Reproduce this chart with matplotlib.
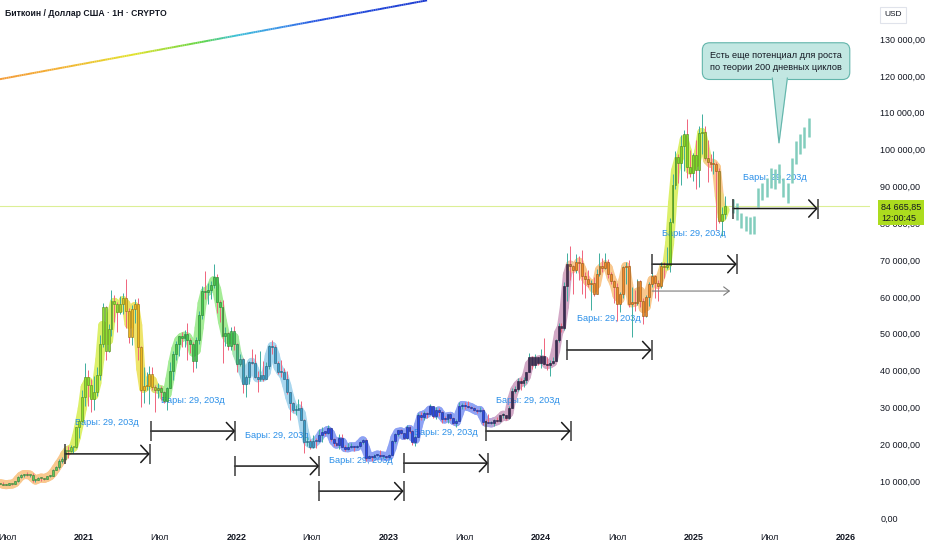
import numpy as np
import pandas as pd
import matplotlib
matplotlib.use("Agg")
import matplotlib.pyplot as plt
import matplotlib.dates as mdates
import matplotlib.transforms as mtransforms
from matplotlib.collections import LineCollection
from matplotlib.colors import to_rgb

plt.rcParams['font.family'] = ['Liberation Sans', 'DejaVu Sans']

# Недельные свечи BTC/USD, тыс. $; первая неделя начинается 2020-06-15
first_open = 9.45
close_2020 = [9.30, 9.00, 9.07, 9.23, 9.17, 9.93, 11.05, 11.68, 11.91, 11.65, 11.71, 10.25, 10.33, 10.93, 10.78,
              10.67, 11.38, 11.50, 13.03, 13.80, 15.48, 16.05, 18.42, 18.18, 19.15, 19.25, 24.70, 26.45, 32.95]
high_2020 = [9.60, 9.80, 9.30, 9.45, 9.30, 9.98, 11.43, 11.90, 12.07, 12.47, 11.80, 12.09, 10.60, 11.18, 11.02,
             10.95, 11.49, 11.72, 13.35, 14.09, 15.97, 16.48, 18.80, 19.42, 19.92, 19.40, 24.80, 26.80, 34.80]
low_2020 = [9.20, 8.90, 8.95, 9.05, 9.05, 9.12, 9.90, 10.95, 11.12, 11.36, 11.13, 9.88, 9.86, 10.21, 10.14,
            10.37, 10.53, 11.18, 11.40, 12.90, 13.20, 14.80, 15.80, 16.20, 18.00, 17.60, 19.00, 21.80, 26.10]

close_2021 = [38.15, 36.00, 32.25, 34.30, 38.90, 47.10, 57.40, 45.20, 51.20, 59.00, 58.10, 55.80, 58.20,
              59.80, 56.20, 49.00, 56.60, 58.20, 46.40, 34.70, 35.70, 35.80, 39.10, 35.50, 34.70, 35.30,
              34.25, 31.80, 35.40, 39.90, 44.60, 47.10, 49.30, 48.80, 49.90, 48.30, 47.30, 42.70, 48.20,
              55.00, 61.50, 61.30, 61.80, 63.30, 65.50, 58.60, 57.20, 49.40, 50.10, 46.70, 50.80, 47.30]
high_2021 = [41.95, 40.10, 37.85, 38.50, 40.95, 49.70, 58.35, 57.50, 52.60, 61.80, 60.60, 58.60, 60.20,
             61.20, 64.85, 57.00, 57.90, 59.50, 59.60, 46.60, 40.90, 39.50, 41.30, 41.00, 36.00, 36.60,
             35.90, 34.60, 35.50, 42.40, 45.30, 48.10, 49.50, 50.50, 51.00, 52.90, 48.80, 47.90, 49.20,
             56.10, 62.90, 67.00, 63.70, 64.30, 69.00, 66.30, 59.30, 59.10, 51.90, 50.60, 51.90, 52.00]
low_2021 = [30.40, 30.40, 28.80, 29.20, 33.20, 37.40, 46.30, 43.00, 45.00, 49.30, 53.30, 50.40, 55.40,
            55.50, 51.50, 47.50, 47.00, 52.90, 42.90, 30.00, 31.30, 34.80, 31.00, 34.80, 28.80, 32.70,
            32.10, 31.10, 29.30, 35.40, 37.50, 42.80, 43.95, 46.40, 46.50, 42.80, 44.70, 39.60, 40.80,
            47.10, 53.90, 59.50, 58.10, 59.50, 62.30, 55.70, 53.30, 42.00, 46.70, 45.60, 45.60, 45.70]

close_2022 = [41.80, 43.10, 36.30, 38.20, 42.40, 42.10, 38.40, 37.70, 38.80, 37.80, 41.30, 46.80, 46.40,
              42.20, 39.70, 39.50, 37.70, 34.30, 31.30, 29.40, 29.40, 29.90, 26.60, 20.60, 21.00, 19.30,
              20.85, 20.80, 22.60, 23.30, 23.20, 24.30, 21.50, 20.30, 19.80, 21.80, 19.40, 18.80, 19.30,
              19.40, 19.20, 19.60, 20.60, 21.30, 16.30, 16.70, 16.45, 17.10, 17.10, 16.75, 16.85, 16.60]
high_2022 = [47.60, 44.45, 43.50, 38.90, 42.60, 45.80, 44.60, 39.80, 45.40, 42.60, 42.40, 46.90, 48.20,
             47.00, 42.50, 42.98, 40.80, 40.00, 34.20, 31.50, 30.60, 32.20, 31.70, 26.90, 21.90, 21.50,
             22.50, 21.60, 24.28, 24.60, 23.65, 25.20, 24.45, 21.80, 20.60, 22.80, 22.67, 19.70, 20.40,
             20.45, 19.50, 19.70, 21.00, 21.47, 21.45, 17.20, 16.90, 17.40, 17.30, 18.40, 16.95, 16.95]
low_2022 = [39.65, 41.30, 34.00, 32.90, 36.30, 41.70, 38.00, 34.30, 37.30, 37.20, 37.60, 40.50, 44.60,
            42.10, 39.20, 38.20, 37.60, 33.70, 26.70, 28.70, 28.00, 29.30, 26.60, 17.60, 19.60, 18.70,
            19.00, 18.90, 20.70, 20.70, 22.40, 22.80, 20.80, 19.60, 19.60, 18.60, 19.30, 18.10, 18.50,
            19.00, 18.20, 18.90, 19.20, 20.05, 15.60, 16.20, 15.48, 16.40, 16.80, 16.50, 16.40, 16.30]

close_2023 = [17.10, 20.90, 22.70, 23.80, 23.00, 21.80, 24.60, 23.50, 20.60, 22.10, 28.00, 27.50, 28.50,
              28.30, 30.30, 27.60, 29.20, 28.90, 26.90, 26.80, 28.10, 27.10, 25.90, 26.30, 30.50, 30.60,
              30.30, 30.20, 29.80, 29.30, 29.00, 29.40, 26.10, 26.00, 25.80, 25.80, 26.50, 26.30, 27.90,
              27.90, 27.10, 29.90, 34.50, 35.00, 37.10, 36.60, 37.40, 39.50, 43.80, 41.40, 43.60, 42.10]
high_2023 = [17.40, 21.20, 23.00, 23.95, 24.20, 23.20, 25.20, 25.10, 23.90, 22.60, 28.40, 28.90, 29.15,
             28.80, 31.00, 30.50, 30.00, 29.80, 29.00, 27.60, 28.30, 28.40, 27.40, 26.80, 31.40, 31.30,
             31.40, 31.80, 30.40, 30.00, 29.70, 30.20, 29.70, 26.80, 28.10, 26.40, 26.90, 27.40, 27.95,
             28.60, 28.00, 30.40, 35.20, 35.90, 38.00, 37.90, 38.40, 39.70, 44.70, 44.00, 44.40, 43.80]
low_2023 = [16.50, 17.10, 20.40, 22.30, 22.80, 21.40, 21.50, 23.10, 19.90, 19.55, 21.90, 26.60, 26.60,
            27.20, 28.20, 27.10, 27.00, 27.70, 25.80, 26.40, 25.90, 26.50, 25.40, 24.80, 26.20, 29.60,
            29.70, 29.90, 29.50, 29.00, 28.60, 28.70, 25.20, 25.80, 25.70, 25.40, 24.90, 26.00, 26.10,
            27.20, 26.60, 26.90, 29.80, 34.00, 34.50, 34.80, 35.60, 36.70, 39.50, 40.50, 40.60, 41.50]

close_2024 = [43.90, 41.70, 41.60, 42.00, 42.60, 48.30, 52.10, 51.70, 63.10, 68.90, 68.40, 67.20, 69.60,
              69.30, 65.70, 64.90, 63.40, 63.90, 60.80, 66.20, 68.50, 67.80, 69.60, 66.10, 64.30, 62.70,
              58.00, 60.80, 68.20, 68.30, 58.10, 58.70, 58.40, 64.20, 58.90, 54.80, 59.90, 63.60, 65.60,
              63.90, 62.90, 68.40, 68.00, 68.70, 80.40, 90.50, 97.90, 96.40, 101.10, 104.30, 95.20, 93.70, 98.40]
high_2024 = [45.90, 48.90, 43.60, 42.80, 43.80, 48.60, 52.80, 52.90, 64.00, 72.00, 73.80, 68.60, 71.70,
             71.20, 72.80, 66.90, 67.20, 64.70, 65.50, 67.70, 71.90, 70.60, 71.90, 70.20, 66.90, 64.50,
             63.80, 61.40, 68.40, 69.40, 70.00, 62.70, 61.80, 65.00, 64.50, 59.80, 60.60, 64.10, 66.50,
             66.00, 64.50, 69.40, 69.50, 73.60, 81.50, 93.40, 99.60, 98.90, 104.00, 105.20, 108.30, 99.90, 99.00]
low_2024 = [40.70, 41.50, 40.30, 38.50, 41.90, 42.60, 47.70, 50.60, 50.90, 59.00, 64.50, 60.80, 66.50,
            64.50, 60.80, 59.60, 62.80, 56.50, 60.20, 60.70, 65.80, 66.70, 67.60, 65.10, 63.40, 58.40,
            53.50, 55.80, 59.70, 63.50, 57.20, 49.10, 56.10, 57.80, 57.20, 52.55, 54.60, 57.50, 62.70,
            59.80, 58.90, 62.40, 65.10, 67.50, 66.90, 80.20, 89.30, 90.80, 90.50, 94.20, 92.20, 92.60, 91.50]

close_2025 = [94.50, 104.60, 104.70, 97.70, 96.50, 96.10, 96.20, 94.20, 80.70, 82.60, 84.67]
high_2025 = [102.70, 106.40, 109.60, 106.40, 102.50, 98.90, 99.50, 96.50, 95.00, 84.50, 87.40]
low_2025 = [89.30, 89.90, 98.90, 97.20, 91.20, 94.10, 93.40, 78.20, 80.00, 76.60, 81.20]

# Паттерн баров (проекция)
proj_start, proj_end = "2025-04-05", "2025-10-03"
proj_high = [86.7, 85.4, 82.9, 82.1, 81.6, 82.0, 89.7, 90.8, 92.4, 95.1, 94.8, 96.2, 92.4, 91.0,
             97.8, 102.4, 104.3, 106.0, 108.7]
proj_low = [82.7, 80.8, 78.6, 78.0, 77.2, 77.2, 84.3, 86.2, 87.0, 89.7, 89.4, 91.0, 87.0, 85.4,
            90.8, 96.2, 98.9, 100.5, 103.5]

# Диапазоны дат "Бары: 29, 203д"
range_starts = ["2020-11-17", "2021-06-10", "2021-12-28", "2022-07-18", "2023-02-06",
                "2023-08-22", "2024-03-03", "2024-09-23", "2025-04-05"]
range_levels = [17.4, 23.6, 14.1, 7.3, 14.9, 23.6, 45.6, 68.9, 84.0]
range_days = 203
range_label = "Бары: 29, 203д"
ghost_start, ghost_end, ghost_level = "2024-09-23", "2025-03-29", 61.6

last_price = 84665.85
countdown = "12:00:45"

trend_dates = ["2020-06-14", "2023-04-03"]
trend_prices = [119.1, 140.5]

callout_text = "Есть еще потенциал для роста\nпо теории 200 дневных циклов"
callout_center = ("2025-07-17", 124.0)
callout_tail = [("2025-07-08", 119.4), ("2025-08-13", 119.4), ("2025-07-24", 101.8)]

price_ticks = np.arange(0, 131, 10)
xtick_dates = ["2020-07-01", "2021-01-01", "2021-07-01", "2022-01-01", "2022-07-01", "2023-01-01",
               "2023-07-01", "2024-01-01", "2024-07-01", "2025-01-01", "2025-07-01", "2026-01-01"]
xtick_labels = ["Июл", "2021", "Июл", "2022", "Июл", "2023", "Июл", "2024", "Июл", "2025", "Июл", "2026"]

# цветовые переходы индикатора (десятичный год, цвет)
glow_stops = [(2020.40, "#f9c88e"), (2020.86, "#f9c88e"), (2020.93, "#dcf06a"), (2021.22, "#dcf06a"),
              (2021.28, "#eee46a"), (2021.45, "#eee46a"), (2021.52, "#a4ec96"), (2021.98, "#a4ec96"),
              (2022.05, "#a8d6ee"), (2022.50, "#a8d6ee"), (2022.56, "#8ea2f4"), (2023.62, "#8ea2f4"),
              (2023.72, "#d2a8c6"), (2024.17, "#d2a8c6"), (2024.20, "#f9c88e"), (2024.78, "#f9c88e"),
              (2024.83, "#dcf06a"), (2025.06, "#dcf06a"), (2025.10, "#f9c88e"), (2025.16, "#f9c88e"),
              (2025.18, "#dcf06a"), (2025.40, "#dcf06a")]
body_stops = [(2020.40, "#5cc85c"), (2020.86, "#5cc85c"), (2020.93, "#8ee030"), (2021.22, "#8ee030"),
              (2021.28, "#f0b820"), (2021.45, "#f0b820"), (2021.52, "#44c850"), (2021.98, "#44c850"),
              (2022.05, "#3c9cc8"), (2022.50, "#3c9cc8"), (2022.56, "#2a48e0"), (2023.62, "#2a48e0"),
              (2023.72, "#3a2c55"), (2024.17, "#3a2c55"), (2024.20, "#f08a28"), (2024.78, "#f08a28"),
              (2024.83, "#7ed828"), (2025.06, "#7ed828"), (2025.10, "#f08a28"), (2025.16, "#f08a28"),
              (2025.18, "#7ed828"), (2025.40, "#7ed828")]
trend_stops = [(0.0, "#f39a35"), (0.14, "#f3b030"), (0.31, "#e2e22a"), (0.47, "#5fd545"),
               (0.55, "#3cc0d8"), (0.66, "#3a8ee8"), (0.74, "#2250e0"), (1.0, "#1a38d0")]


def blend(t, stops):
    pos = [s[0] for s in stops]
    rgb = np.array([to_rgb(s[1]) for s in stops])
    return np.column_stack([np.interp(t, pos, rgb[:, k]) for k in range(3)])


def price_fmt(v):
    return f"{v:,.2f}".replace(",", " ").replace(".", ",")


closes = np.array(close_2020 + close_2021 + close_2022 + close_2023 + close_2024 + close_2025)
highs = np.array(high_2020 + high_2021 + high_2022 + high_2023 + high_2024 + high_2025)
lows = np.array(low_2020 + low_2021 + low_2022 + low_2023 + low_2024 + low_2025)
opens = np.r_[first_open, closes[:-1]]
weeks = pd.date_range("2020-06-15", periods=len(closes), freq="7D")
xw = mdates.date2num(weeks)
tyear = weeks.year + (weeks.dayofyear - 1) / 365.25

fig = plt.figure(figsize=(9.32, 5.5), dpi=100)
ax = fig.add_axes([0, 23 / 550, 870 / 932, 527 / 550])
ax.set_xlim(mdates.date2num(pd.Timestamp("2020-06-14")), mdates.date2num(pd.Timestamp("2026-02-27")))
ax.set_ylim(-2.44, 140.59)
for s in ax.spines.values():
    s.set_visible(False)

# линия тренда с градиентом
tx = mdates.date2num(pd.to_datetime(trend_dates))
ss = np.linspace(0, 1, 200)
px = tx[0] + ss * (tx[1] - tx[0])
py = trend_prices[0] + ss * (trend_prices[1] - trend_prices[0])
tseg = np.stack([np.column_stack([px[:-1], py[:-1]]), np.column_stack([px[1:], py[1:]])], axis=1)
ax.add_collection(LineCollection(tseg, colors=blend(ss[:-1], trend_stops), linewidths=1.4, zorder=2))

# текущая цена
ax.axhline(last_price / 1000, color="#dcef96", lw=0.8, zorder=0.8)

# подсветка индикатора
mid = (opens + closes) / 2
gseg = np.stack([np.column_stack([xw[:-1], mid[:-1]]), np.column_stack([xw[1:], mid[1:]])], axis=1)
ax.add_collection(LineCollection(gseg, colors=blend(tyear[:-1], glow_stops), linewidths=6.5,
                                 capstyle="round", zorder=1))

# свечи
up = closes >= opens
ax.vlines(xw, lows, highs, colors=np.where(up, "#3fae9e", "#f0647c"), lw=0.7, zorder=2.2)
bcol = blend(tyear, body_stops)
ax.bar(xw, np.maximum(np.abs(closes - opens), 0.3), bottom=np.minimum(opens, closes), width=4.6,
       color=bcol, edgecolor=bcol * 0.6, linewidth=0.4, zorder=2.4)

# проекция
xp = mdates.date2num(pd.date_range(proj_start, proj_end, periods=len(proj_high)))
ax.vlines(xp, proj_low, proj_high, colors="#82cdbd", lw=1.8, zorder=2.4)

# измерения диапазонов
for start, lvl in zip(range_starts, range_levels):
    x0 = mdates.date2num(pd.Timestamp(start))
    x1 = x0 + range_days
    ax.annotate("", xy=(x1, lvl), xytext=(x0, lvl),
                arrowprops=dict(arrowstyle="->,head_length=0.58,head_width=0.62", color="#1b1b1b",
                                lw=1.1, shrinkA=0, shrinkB=0), zorder=6)
    ax.plot([x0, x1], [lvl, lvl], ls="none", marker="|", ms=14.4, mew=1.1, color="#3a3a3a", zorder=6)
    ax.annotate(range_label, xy=(x0, lvl), xytext=(10, 31), textcoords="offset pixels",
                ha="left", va="center", fontsize=6.6, color="#2a8fe8", zorder=1.5)

g0 = mdates.date2num(pd.Timestamp(ghost_start))
g1 = mdates.date2num(pd.Timestamp(ghost_end))
ax.annotate("", xy=(g1, ghost_level), xytext=(g0, ghost_level),
            arrowprops=dict(arrowstyle="->,head_length=0.4,head_width=0.3", color="#7a7a7a",
                            lw=0.8, shrinkA=0, shrinkB=0), zorder=5)

# выноска
cx = mdates.date2num(pd.Timestamp(callout_center[0]))
ax.text(cx, callout_center[1], callout_text, ha="center", va="center", fontsize=6.6, color="#131722",
        linespacing=1.45, zorder=8,
        bbox=dict(boxstyle="round,pad=0.85,rounding_size=0.8", fc="#c2e7e2", ec="#62b5ab", lw=0.8))
tail = np.array([[mdates.date2num(pd.Timestamp(d)), p] for d, p in callout_tail])
ax.fill(tail[:, 0], tail[:, 1], color="#c2e7e2", zorder=8.5)
ax.plot(tail[[0, 2, 1], 0], tail[[0, 2, 1], 1], color="#62b5ab", lw=0.8, zorder=8.6)

# оси
ax.yaxis.tick_right()
ax.set_yticks(price_ticks)
ax.set_yticklabels([price_fmt(v * 1000) for v in price_ticks])
ax.tick_params(axis="y", length=0, pad=7.5, labelsize=6.5, labelcolor="#131722")
ax.set_xticks(mdates.date2num(pd.to_datetime(xtick_dates)))
ax.set_xticklabels(xtick_labels)
ax.tick_params(axis="x", length=0, pad=4, labelsize=6.5, labelcolor="#131722")
for lab in ax.get_xticklabels():
    if lab.get_text().isdigit():
        lab.set_fontweight("bold")

# метка последней цены
trans = mtransforms.blended_transform_factory(ax.transAxes, ax.transData)
ax.annotate(price_fmt(last_price) + "\n" + countdown, xy=(1, last_price / 1000), xycoords=trans,
            xytext=(11, -6.5), textcoords="offset pixels", ha="left", va="center", fontsize=6.5,
            color="#131722", linespacing=1.3, annotation_clip=False, zorder=10,
            bbox=dict(boxstyle="square,pad=0.3", fc="#acdc1e", ec="none"))

fig.text(893 / 932, 1 - 15 / 550, "USD", ha="center", va="center", fontsize=6, color="#131722",
         bbox=dict(boxstyle="square,pad=0.5", fc="white", ec="#e0e3eb", lw=0.8))
fig.text(5 / 932, 1 - 14 / 550, "Биткоин / Доллар США · 1Н · CRYPTO", ha="left", va="center",
         fontsize=6.2, fontweight="bold", color="#131722")

fig.savefig("out.png", dpi=100)
